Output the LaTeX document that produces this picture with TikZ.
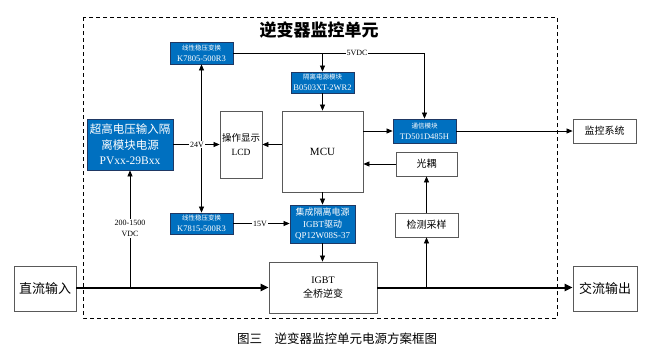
\documentclass[tikz,border=0pt]{standalone}
\usepackage{fontspec}
\setmainfont{Liberation Serif}
\newfontfamily\cjk{Noto Sans CJK SC}
\usetikzlibrary{arrows.meta}
\definecolor{bfill}{HTML}{0070C0}
\definecolor{bdraw}{HTML}{1F3864}
\definecolor{gdraw}{HTML}{595959}
\tikzset{
  wbox/.style={draw=gdraw,line width=0.8pt,fill=white,inner sep=0pt,align=center,font=\fontsize{10}{14}\selectfont},
  bbox/.style={draw=bdraw,line width=0.8pt,fill=bfill,text=white,inner sep=0pt,align=center},
  conn/.style={line width=0.7pt,draw=black,-{Triangle[length=6pt,width=5pt]}},
  plain/.style={line width=0.7pt,draw=black},
  thick conn/.style={line width=2pt,draw=black,-{Triangle[length=8pt,width=7pt]}},
  lbl/.style={fill=white,inner sep=1pt,font=\fontsize{8}{9}\selectfont},
}
\newcommand{\tl}[1]{{\cjk\fontsize{6.5}{8}\selectfont #1}}
\newcommand{\bl}[1]{{\fontsize{8.5}{10}\selectfont #1}}
\begin{document}
\begin{tikzpicture}[x=1pt,y=-1pt]
\useasboundingbox (0,0) rectangle (652,356);
% frame
\draw[dashed,line width=0.9pt,dash pattern=on 4pt off 3pt] (83,17) rectangle (557,318);
\node[font=\cjk\fontsize{17}{19}\selectfont\bfseries] (title) at (319,30) {逆变器监控单元};
% nodes
\node[bbox,minimum width=63pt,minimum height=22pt] (k78) at (201.5,53) {\tl{线性稳压变换}\\[-1pt]\bl{K7805-500R3}};
\node[bbox,minimum width=63pt,minimum height=21pt] (b05) at (322.5,82.5) {\tl{隔离电源模块}\\[-1pt]\bl{B0503XT-2WR2}};
\node[wbox,minimum width=81pt,minimum height=81pt,font=\fontsize{11}{13}\selectfont] (mcu) at (322.5,151.5) {MCU};
\node[wbox,minimum width=42pt,minimum height=67pt,font=\fontsize{9.5}{13}\selectfont] (lcd) at (241,144.5) {{\cjk 操作显示}\\[1pt]LCD};
\node[bbox,minimum width=86pt,minimum height=51pt,font=\fontsize{11.5}{15.5}\selectfont] (pv) at (130,144.5) {{\cjk 超高电压输入隔}\\{\cjk 离模块电源}\\PVxx-29Bxx};
\node[bbox,minimum width=63pt,minimum height=24pt] (td) at (424.5,131) {\tl{通信模块}\\[-1pt]\bl{TD501D485H}};
\node[wbox,minimum width=61pt,minimum height=24pt] (gy) at (426.5,164) {\cjk 光耦};
\node[wbox,minimum width=63pt,minimum height=24pt] (jc) at (426.5,225) {\cjk 检测采样};
\node[bbox,minimum width=63pt,minimum height=21pt] (k15) at (201.5,223.5) {\tl{线性稳压变换}\\[-1pt]\bl{K7815-500R3}};
\node[bbox,minimum width=65pt,minimum height=38pt,font=\fontsize{9}{11.5}\selectfont] (jc2) at (322.5,224) {{\cjk 集成隔离电源}\\IGBT{\cjk 驱动}\\QP12W08S-37};
\node[wbox,minimum width=108pt,minimum height=51pt] (igbt) at (323,287.5) {IGBT\\{\cjk 全桥逆变}};
\node[wbox,minimum width=62pt,minimum height=45pt,font=\cjk\fontsize{13}{15}\selectfont] (dc) at (45,288.5) {直流输入};
\node[wbox,minimum width=64pt,minimum height=45pt,font=\cjk\fontsize{13}{15}\selectfont] (ac) at (605,288.5) {交流输出};
\node[wbox,minimum width=63pt,minimum height=24pt] (jk) at (604.5,131) {\cjk 监控系统};
\node[font=\cjk\fontsize{12.5}{14}\selectfont] (cap) at (337,339) {图三\quad 逆变器监控单元电源方案框图};
% coordinates
\coordinate (j1) at (130,287.5);
\coordinate (j2) at (426.5,287.5);
\coordinate (t1) at (322.5,53);
\coordinate (t2) at (424.5,53);
\coordinate (v1) at (201.5,144.5);
% thick power line
\draw[thick conn] (dc.east |- j1) -- (igbt.west |- j1);
\draw[thick conn] (igbt.east |- j1) -- (ac.west |- j1);
% connectors
\draw[conn] (j1) -- (pv.south);
\node[lbl,align=center,font=\fontsize{8}{11}\selectfont] (l200) at (130,228.5) {200-1500\\VDC};
\draw[conn] (pv.east |- v1) -- (lcd.west |- v1);
\draw[conn] (v1) -- (k78.south);
\draw[conn] (v1) -- (k15.north);
\node[lbl] (l24) at (197,144.5) {24V};
\draw[conn] (mcu.west |- v1) -- (lcd.east |- v1);
\draw[plain] (k78.east) -- (t2);
\draw[conn] (t2) -- (td.north);
\draw[conn] (t1) -- (b05.north);
\node[lbl] (l5) at (357,53) {5VDC};
\draw[conn] (b05.south) -- (mcu.north);
\draw[conn] (mcu.east |- td) -- (td.west);
\draw[conn] (td.east) -- (jk.west);
\draw[conn] (gy.west) -- (mcu.east |- gy);
\draw[conn] (jc.north) -- (gy.south);
\draw[conn] (j2) -- (jc.south);
\draw[conn] (mcu.south) -- (jc2.north);
\draw[conn] (k15.east) -- (jc2.west |- k15.east);
\node[lbl] (l15) at (260,223.5) {15V};
\draw[conn] (jc2.south) -- (igbt.north -| jc2.south);
\end{tikzpicture}
\end{document}
